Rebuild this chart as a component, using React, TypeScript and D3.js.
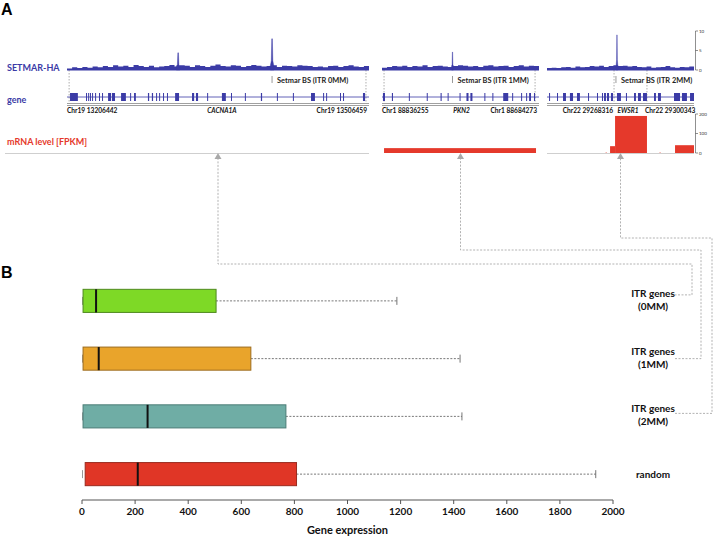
import React from 'react';
import * as d3 from 'd3';

// ---------- Panel B data (box plot) ----------
const categories = ['ITR genes (0MM)', 'ITR genes (1MM)', 'ITR genes (2MM)', 'random'];
const labelLine1 = ['ITR genes', 'ITR genes', 'ITR genes', 'random'];
const labelLine2 = ['(0MM)', '(1MM)', '(2MM)', ''];
const whiskerLow = [0, 0, 0, 0];
const q1 = [4, 4, 4, 12];
const medians = [53, 63, 247, 210];
const q3 = [505, 636, 768, 808];
const whiskerHigh = [1186, 1424, 1431, 1935];
const xTicks = [0, 200, 400, 600, 800, 1000, 1200, 1400, 1600, 1800, 2000];

// ---------- Panel A data (genome tracks, coordinates in 0..1000 per locus) ----------
const geneNames = ['CACNA1A', 'PKN2', 'EWSR1'];
const leftCoords = ['Chr19 13206442', 'Chr1 88836255', 'Chr22 29268316'];
const rightCoords = ['Chr19 13506459', 'Chr1 88684273', 'Chr22 29300343'];
const bsLabels = ['Setmar BS (ITR 0MM)', 'Setmar BS (ITR 1MM)', 'Setmar BS (ITR 2MM)'];
const bsPositions = [679, 449, 469];
const geneBounds = [[7, 990], [13, 975], [456, 680]];
const geneLabelPos = [513, 506, 551];
const signalTicks = [0, 5, 10];
const mrnaTicks = [0, 100, 200];

const exons1 = [[10, 36], [63, 66], [70, 73], [76, 79], [83, 86], [93, 96], [106, 109], [116, 119], [136, 146], [149, 159], [179, 195], [209, 212], [222, 228], [268, 272], [281, 285], [295, 298], [305, 308], [318, 321], [331, 334], [358, 371], [414, 421], [427, 434], [464, 467], [513, 526], [543, 546], [589, 592], [642, 646], [695, 698], [748, 751], [808, 821], [848, 851], [858, 861], [904, 907], [914, 917], [980, 987]];
const exons2 = [[6, 19], [63, 70], [171, 177], [285, 291], [373, 380], [418, 424], [494, 500], [538, 551], [563, 576], [652, 658], [703, 709], [772, 804], [829, 835], [886, 892], [918, 924], [937, 949], [968, 975]];
const exons3 = [[14, 20], [68, 75], [109, 129], [156, 177], [204, 224], [279, 286], [340, 347], [374, 381], [388, 401], [408, 422], [435, 449], [476, 503], [537, 544], [592, 605], [619, 639], [653, 680], [728, 741], [755, 775], [864, 905], [918, 952], [973, 1000]];

const signal1 = [0.4, 0.7, 0.5, 0.8, 0.6, 0.9, 0.7, 1.0, 0.8, 1.2, 0.9, 1.1, 0.8, 1.3, 1.0, 0.8, 1.1, 0.7, 0.9, 1.0, 1.3, 0.9, 1.2, 1.1, 0.8, 1.2, 1.0, 0.8, 1.1, 1.4, 1.0, 0.9, 1.2, 1.1, 0.8, 1.0, 1.3, 1.1, 0.9, 1.0, 1.2, 0.8, 1.1, 1.0, 0.9, 1.2, 1.1, 1.0, 0.8, 0.9, 0.7, 1.0, 1.1, 0.8, 1.0, 1.2, 0.9, 0.8, 1.0, 0.6];
const signal2 = [0.6, 0.8, 1.0, 0.9, 1.1, 0.8, 1.0, 0.9, 1.2, 0.8, 1.0, 1.1, 0.9, 0.8, 1.0, 1.2, 1.1, 0.9, 1.0, 0.8, 1.1, 1.2, 0.9, 1.0, 1.1, 0.8, 1.0, 1.2, 0.9, 1.1, 1.0, 0.8];
const signal3 = [0.5, 0.6, 0.5, 0.7, 0.8, 0.6, 0.9, 0.7, 0.8, 1.0, 0.9, 1.1, 0.8, 1.0, 1.2, 1.0, 1.1, 0.9, 1.0, 0.8, 0.7, 0.9, 0.6, 0.7, 0.8, 1.0, 0.7, 0.6, 0.8, 0.7, 0.9, 0.5];
const peaks1 = [[368, 4.4], [679, 8.0]];
const peaks2 = [[449, 4.6]];
const peaks3 = [[476, 9.0]];

const mrna1: number[][] = [];
const mrna2 = [[13, 981, 25]];
const mrna3 = [[400, 404, 5], [429, 463, 35], [463, 680, 190], [767, 771, 5], [871, 1000, 40]];

const BLUE = '#3b3ba6';
const RED = '#e5392b';
const FONT = 'Lato, "Open Sans", sans-serif';

const panelRanges = [[67, 369], [382, 539], [547, 694]];
const exonsAll = [exons1, exons2, exons3];
const signalAll = [signal1, signal2, signal3];
const peaksAll = [peaks1, peaks2, peaks3];
const mrnaAll = [mrna1, mrna2, mrna3];

const boxFill = ['#7ed926', '#e9a42b', '#6fada5', '#e03626'];
const boxStroke = ['#4f8a1f', '#9c6c1f', '#4b7c76', '#9a2a1e'];

export default function App() {
  const W = 713, H = 536;

  const x = d3.scaleLinear().domain([0, 2000]).range([82, 613]);
  const y = d3.scaleBand<string>().domain(categories).range([272, 503]).paddingInner(0.6).paddingOuter(0.3);
  const bw = y.bandwidth();
  const axisY = 500;

  const sigY = d3.scaleLinear().domain([0, 10]).range([70, 31]);
  const mY = d3.scaleLinear().domain([0, 200]).range([153, 114]);
  const geneY = 97;
  const coordY = 111;

  const panels = panelRanges.map((r, i) => {
    const px = d3.scaleLinear().domain([0, 1000]).range(r);
    const sig = signalAll[i];
    const step = 1000 / (sig.length - 1);
    const sigArea = d3.area<number>()
      .x((_, j) => px(j * step))
      .y0(sigY(0))
      .y1((d) => sigY(d))
      .curve(d3.curveStepAfter)(sig) || '';
    const peakArea = d3.area<number[]>()
      .x((d) => px(d[0]))
      .y0(sigY(0))
      .y1((d) => sigY(d[1]));
    return { px, sigArea, peakArea, i };
  });

  const connectorXs = [692, 701, 712];
  const connectorTops = [264, 250, 238];
  const arrowYs = 153;

  return (
    <svg width={W} height={H} style={{ position: 'absolute', left: 0, top: 0, background: '#fff' }} fontFamily={FONT}>
      <text x={1} y={15} fontSize={16} fontWeight={700} fontFamily="Liberation Sans, Arial, sans-serif">A</text>
      <text x={1} y={278} fontSize={16} fontWeight={700} fontFamily="Liberation Sans, Arial, sans-serif">B</text>

      <text x={7} y={71} fontSize={9} fontWeight={700} fill={BLUE}>SETMAR-HA</text>
      <text x={7} y={103} fontSize={9} fontWeight={700} fill={BLUE}>gene</text>
      <text x={7} y={145} fontSize={9} fontWeight={700} fill={RED}>mRNA level [FPKM]</text>

      <line x1={5} x2={369} y1={153.5} y2={153.5} stroke="#cfcfcf" strokeWidth={1} />
      <line x1={547} x2={694} y1={153.5} y2={153.5} stroke="#cfcfcf" strokeWidth={1} />

      {panels.map(({ px, sigArea, peakArea, i }) => {
        const [gs, ge] = geneBounds[i];
        const [r0, r1] = panelRanges[i];
        return (
          <g key={i}>
            <line x1={px(gs)} x2={px(gs)} y1={sigY(0)} y2={103} stroke="#999" strokeDasharray="1.5,1.5" strokeWidth={0.8} />
            <line x1={px(ge)} x2={px(ge)} y1={sigY(0)} y2={103} stroke="#999" strokeDasharray="1.5,1.5" strokeWidth={0.8} />
            <path d={sigArea} fill={BLUE} />
            <line x1={r0} x2={r1} y1={sigY(0)} y2={sigY(0)} stroke={BLUE} strokeWidth={1} />
            {peaksAll[i].map((p, k) => (
              <path key={k} d={peakArea([[p[0] - 6, 1.0], [p[0] - 2.5, p[1] * 0.3], [p[0] - 1, p[1]], [p[0] + 1, p[1]], [p[0] + 2.5, p[1] * 0.3], [p[0] + 6, 1.0]]) || ''} fill={BLUE} stroke={BLUE} strokeWidth={0.4} />
            ))}
            <line x1={px(bsPositions[i])} x2={px(bsPositions[i])} y1={76} y2={83} stroke="#999" strokeWidth={1} />
            <text x={px(bsPositions[i]) + 5} y={82.5} fontSize={7.4} fontWeight={700} fill="#222">{bsLabels[i]}</text>
            <line x1={px(0)} x2={px(1000)} y1={geneY} y2={geneY} stroke={BLUE} strokeWidth={0.8} />
            {exonsAll[i].map((e, k) => (
              <rect key={k} x={px(e[0])} y={geneY - 4} width={Math.max(1, px(e[1]) - px(e[0]))} height={8} fill={BLUE} />
            ))}
            <line x1={r0} x2={r1} y1={103.5} y2={103.5} stroke="#888" strokeWidth={0.8} />
            <line x1={r0} x2={r1} y1={105.5} y2={105.5} stroke="#888" strokeWidth={0.8} />
            {i < 2 ? (
              <>
                <text x={r0} y={coordY + 2} fontSize={6.6} fontWeight={700} fill="#111">{leftCoords[i]}</text>
                <text x={r1 - 2} y={coordY + 2} fontSize={6.6} fontWeight={700} fill="#111" textAnchor="end">{rightCoords[i]}</text>
              </>
            ) : (
              <>
                <text x={px(gs) - 1} y={coordY + 2} fontSize={6.6} fontWeight={700} fill="#111" textAnchor="end">{leftCoords[i]}</text>
                <text x={px(ge) - 2} y={coordY + 2} fontSize={6.6} fontWeight={700} fill="#111">{rightCoords[i]}</text>
              </>
            )}
            <text x={px(geneLabelPos[i])} y={coordY + 2} fontSize={6.6} fontWeight={700} fontStyle="italic" fill="#111" textAnchor="middle">{geneNames[i]}</text>
            {mrnaAll[i].map((b, k) => (
              <rect key={k} x={px(b[0])} y={mY(b[2])} width={px(b[1]) - px(b[0])} height={mY(0) - mY(b[2])} fill={RED} />
            ))}
            <path d={`M${px(500)},${arrowYs} l-3.5,6 l7,0 z`} fill="#a9a9a9" />
          </g>
        );
      })}

      <line x1={695.5} x2={695.5} y1={sigY(10)} y2={sigY(0)} stroke="#444" strokeWidth={0.6} />
      {signalTicks.map((t) => (
        <g key={t}>
          <line x1={695.5} x2={698} y1={sigY(t)} y2={sigY(t)} stroke="#444" strokeWidth={0.6} />
          <text x={699} y={sigY(t) + 1.5} fontSize={4.5} fill="#333">{t}</text>
        </g>
      ))}
      <line x1={695.5} x2={695.5} y1={mY(200)} y2={mY(0)} stroke="#444" strokeWidth={0.6} />
      {mrnaTicks.map((t) => (
        <g key={t}>
          <line x1={695.5} x2={698} y1={mY(t)} y2={mY(t)} stroke="#444" strokeWidth={0.6} />
          <text x={699} y={mY(t) + 1.5} fontSize={4.5} fill="#333">{t}</text>
        </g>
      ))}

      {[0, 1, 2].map((i) => {
        const cy = (y(categories[i]) as number) + bw / 2 - (i === 0 ? 6 : i === 2 ? 3 : 0);
        const ax = panels[i].px(500);
        const lx = i === 0 ? 671 : 675;
        return (
          <path key={i} d={`M${lx},${cy} H${connectorXs[i]} V${connectorTops[i]} H${ax} V${arrowYs + 6}`} fill="none" stroke="#a9a9a9" strokeWidth={0.9} strokeDasharray="2,1.5" />
        );
      })}

      {categories.map((c, i) => {
        const y0 = y(c) as number;
        const cy = y0 + bw / 2;
        return (
          <g key={c}>
            <line x1={x(q3[i])} x2={x(whiskerHigh[i])} y1={cy} y2={cy} stroke="#555" strokeWidth={0.8} strokeDasharray="2,1.5" />
            <line x1={x(whiskerHigh[i])} x2={x(whiskerHigh[i])} y1={cy - 4} y2={cy + 4} stroke="#666" strokeWidth={0.9} />
            <line x1={x(whiskerLow[i]) + 0.5} x2={x(whiskerLow[i]) + 0.5} y1={cy - 4} y2={cy + 4} stroke="#999" strokeWidth={1} />
            <rect x={x(q1[i])} y={y0} width={x(q3[i]) - x(q1[i])} height={bw} fill={boxFill[i]} stroke={boxStroke[i]} strokeWidth={1} />
            <line x1={x(medians[i])} x2={x(medians[i])} y1={y0} y2={y0 + bw} stroke="#111" strokeWidth={2} />
            {labelLine2[i] ? (
              <>
                <text x={653} y={cy - 4} fontSize={10} fontWeight={700} textAnchor="middle" fill="#111">{labelLine1[i]}</text>
                <text x={653} y={cy + 9} fontSize={10} fontWeight={700} textAnchor="middle" fill="#111">{labelLine2[i]}</text>
              </>
            ) : (
              <text x={653} y={cy + 4} fontSize={10} fontWeight={700} textAnchor="middle" fill="#111">{labelLine1[i]}</text>
            )}
          </g>
        );
      })}

      <line x1={x(0)} x2={x(2000)} y1={axisY} y2={axisY} stroke="#555" strokeWidth={1} />
      {xTicks.map((t) => (
        <g key={t}>
          <line x1={x(t)} x2={x(t)} y1={axisY} y2={axisY + 4} stroke="#555" strokeWidth={1} />
          <text x={x(t)} y={axisY + 15} fontSize={10} fontWeight={700} textAnchor="middle" fill="#111">{t}</text>
        </g>
      ))}
      <text x={x(1000)} y={534} fontSize={11} fontWeight={700} textAnchor="middle" fill="#111">Gene expression</text>
    </svg>
  );
}
